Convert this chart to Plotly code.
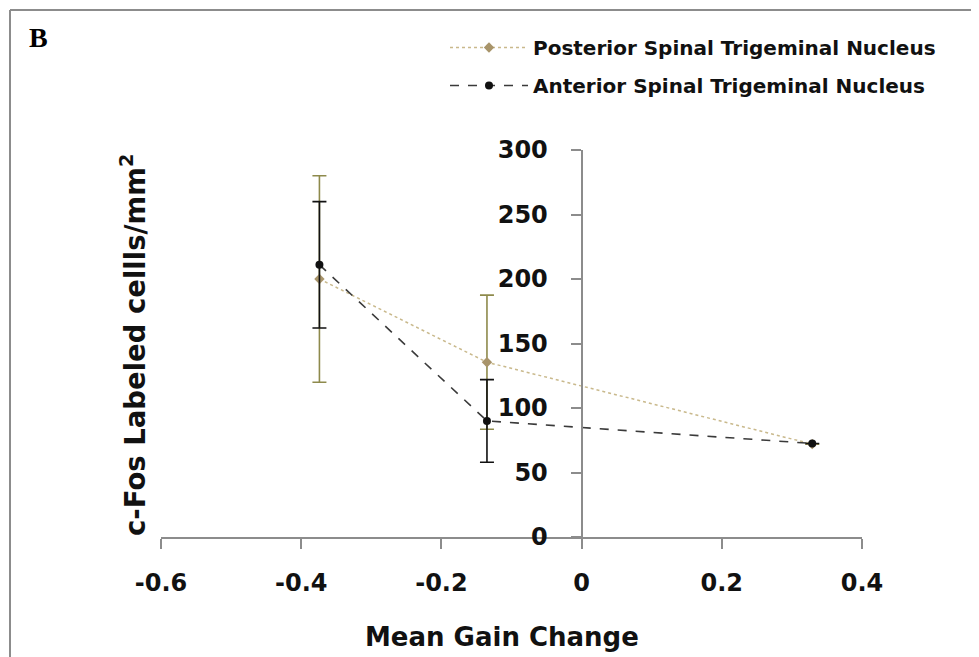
import plotly.graph_objects as go

# Data
gain_change = [-0.374, -0.135, 0.329]
posterior_vals = [200, 135.5, 72]
posterior_err = [80, 52, 0]
anterior_vals = [211, 90, 72.5]
anterior_err = [49, 32, 0]
series_names = ["Posterior Spinal Trigeminal Nucleus", "Anterior Spinal Trigeminal Nucleus"]
x_ticks = [-0.6, -0.4, -0.2, 0, 0.2, 0.4]
x_tick_text = ["-0.6", "-0.4", "-0.2", "0", "0.2", "0.4"]
y_ticks = [0, 50, 100, 150, 200, 250, 300]

FONT = "DejaVu Sans"
OFF = 8  # page body margin
W, H = 979 - OFF, 657 - OFF
L, R, T, B = 153, 117, 142, 120
PW, PH = W - L - R, H - T - B

def px(x):
    return (x - OFF - L) / PW

def py(y):
    return (H - B - (y - OFF)) / PH

fig = go.Figure()
fig.add_trace(go.Scatter(
    x=gain_change, y=posterior_vals, name=series_names[0], mode="lines+markers",
    legendgroup="p",
    line=dict(color="#C9B98C", width=1.5, dash="dot"),
    marker=dict(symbol="diamond", size=8, color="#A8946A"),
    error_y=dict(type="data", array=posterior_err, color="#8E8A4C", thickness=1.6, width=7),
))
fig.add_trace(go.Scatter(
    x=gain_change, y=anterior_vals, name=series_names[1], mode="lines+markers",
    legendgroup="a",
    line=dict(color="#3A3A3A", width=1.6, dash="dash"),
    marker=dict(symbol="circle", size=8, color="#111111"),
    error_y=dict(type="data", array=anterior_err, color="#111111", thickness=1.6, width=7),
))

axis_font = dict(family=FONT, size=24, color="#111111", weight="bold")
fig.update_layout(
    width=W, height=H,
    margin=dict(l=L, r=R, t=T, b=B),
    paper_bgcolor="white", plot_bgcolor="white",
    showlegend=True,
    legend=dict(x=px(445), y=py(28), xanchor="left", yanchor="top",
                font=dict(family=FONT, size=20, color="#111111", weight="bold"),
                bgcolor="rgba(0,0,0,0)", traceorder="grouped", tracegroupgap=9, itemwidth=78),
    xaxis=dict(range=[-0.6, 0.4], tickvals=x_ticks, ticktext=x_tick_text,
               showline=True, linecolor="#8C8C8C", linewidth=2, ticks="outside", ticklen=10,
               tickcolor="#8C8C8C", tickwidth=2, showgrid=False, zeroline=False,
               tickfont=axis_font, ticklabelstandoff=13),
    yaxis=dict(range=[0, 300], tickvals=y_ticks, anchor="free", position=0.6,
               showline=True, linecolor="#8C8C8C", linewidth=2, ticks="outside", ticklen=10,
               tickcolor="#8C8C8C", tickwidth=2, showgrid=False, zeroline=False,
               tickfont=axis_font, ticklabelstandoff=18),
    annotations=[
        dict(text="Mean Gain Change", x=px(502), y=py(637), xref="paper", yref="paper",
             showarrow=False, xanchor="center", yanchor="middle",
             font=dict(family=FONT, size=26, color="#111111", weight="bold")),
        dict(text="c-Fos Labeled cellls/mm<sup>2</sup>", x=px(133), y=py(345), xref="paper", yref="paper",
             showarrow=False, xanchor="center", yanchor="middle", textangle=-90,
             font=dict(family=FONT, size=27.5, color="#111111", weight="bold")),
        dict(text="<b>B</b>", x=px(38.5), y=py(37.5), xref="paper", yref="paper",
             showarrow=False, xanchor="center", yanchor="middle",
             font=dict(family="Liberation Serif", size=28, color="#000000")),
    ],
    shapes=[
        dict(type="line", xref="paper", yref="paper", x0=px(10), x1=px(990), y0=py(10), y1=py(10),
             line=dict(color="#8C8C8C", width=2)),
        dict(type="line", xref="paper", yref="paper", x0=px(10), x1=px(10), y0=py(10), y1=py(670),
             line=dict(color="#8C8C8C", width=2)),
    ],
)

fig.write_html("out.html")
